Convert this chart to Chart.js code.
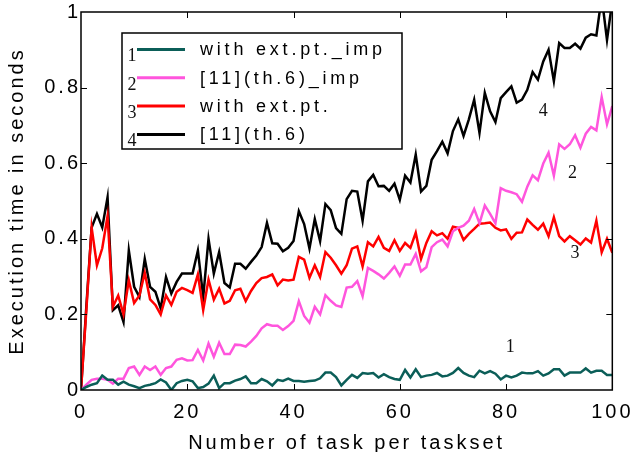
<!DOCTYPE html>
<html lang="en">
<head>
<meta charset="utf-8">
<title>Execution time per taskset</title>
<script src="https://cdn.jsdelivr.net/npm/chart.js@4.4.0/dist/chart.umd.min.js"></script>
<style>
  body { margin: 0; background: #fff; }
  #wrap { width: 639px; height: 452px; }
</style>
</head>
<body>
<div id="wrap"><canvas id="execChart" width="639" height="452"></canvas></div>
<script>
// number of tasks per taskset, 0..100
var taskCounts = [];
for (var i = 0; i <= 100; i++) taskCounts.push(i);

var seriesNames = ['with ext.pt._imp', '[11](th.6)_imp', 'with ext.pt.', '[11](th.6)'];

var extPtImp = [0, 0.008, 0.014, 0.018, 0.038, 0.027, 0.027, 0.014, 0.022, 0.014, 0.01,
  0.005, 0.011, 0.014, 0.018, 0.028, 0.02, 0.0, 0.018, 0.024, 0.027,
  0.023, 0.005, 0.008, 0.017, 0.038, 0.005, 0.018, 0.018, 0.025, 0.029,
  0.036, 0.018, 0.018, 0.029, 0.023, 0.012, 0.027, 0.024, 0.03, 0.024,
  0.024, 0.022, 0.024, 0.025, 0.031, 0.046, 0.046, 0.034, 0.012, 0.027,
  0.04, 0.032, 0.045, 0.043, 0.045, 0.033, 0.042, 0.034, 0.029, 0.027,
  0.053, 0.033, 0.055, 0.034, 0.038, 0.04, 0.045, 0.036, 0.038, 0.045,
  0.058, 0.045, 0.038, 0.034, 0.051, 0.044, 0.05, 0.043, 0.028, 0.038,
  0.033, 0.038, 0.046, 0.044, 0.044, 0.05, 0.038, 0.044, 0.055, 0.055,
  0.038, 0.046, 0.046, 0.046, 0.057, 0.046, 0.051, 0.051, 0.04, 0.04];

var th6Imp = [0, 0.014, 0.027, 0.03, 0.03, 0.027, 0.017, 0.03, 0.03, 0.058, 0.062,
  0.04, 0.062, 0.053, 0.062, 0.04, 0.058, 0.062, 0.08, 0.084, 0.078,
  0.079, 0.106, 0.078, 0.123, 0.088, 0.125, 0.095, 0.095, 0.12, 0.119,
  0.115, 0.128, 0.143, 0.163, 0.174, 0.17, 0.17, 0.159, 0.169, 0.183,
  0.235, 0.196, 0.178, 0.22, 0.2, 0.251, 0.236, 0.224, 0.22, 0.271,
  0.273, 0.288, 0.248, 0.323, 0.315, 0.306, 0.295, 0.31, 0.327, 0.302,
  0.332, 0.332, 0.36, 0.314, 0.325, 0.378, 0.391, 0.398, 0.38, 0.42,
  0.429, 0.435, 0.448, 0.479, 0.441, 0.488, 0.466, 0.441, 0.534, 0.527,
  0.523, 0.518, 0.498, 0.538, 0.568, 0.555, 0.599, 0.628, 0.567, 0.65,
  0.638, 0.65, 0.674, 0.641, 0.678, 0.696, 0.687, 0.775, 0.703, 0.751];

var extPt = [0, 0.21, 0.43, 0.33, 0.375, 0.46, 0.22, 0.25, 0.2, 0.29, 0.23,
  0.25, 0.31, 0.24, 0.225, 0.2, 0.25, 0.225, 0.26, 0.27, 0.264,
  0.257, 0.306, 0.211, 0.292, 0.239, 0.268, 0.229, 0.236, 0.264, 0.268,
  0.235, 0.262, 0.283, 0.296, 0.299, 0.306, 0.277, 0.292, 0.29, 0.292,
  0.352, 0.345, 0.297, 0.33, 0.299, 0.365, 0.35, 0.33, 0.308, 0.33,
  0.374, 0.38, 0.327, 0.391, 0.38, 0.405, 0.376, 0.368, 0.396, 0.368,
  0.389, 0.376, 0.416, 0.347, 0.389, 0.42, 0.409, 0.415, 0.4, 0.432,
  0.429, 0.397, 0.413, 0.426, 0.44, 0.441, 0.443, 0.429, 0.422, 0.425,
  0.4, 0.416, 0.417, 0.451, 0.437, 0.424, 0.44, 0.407, 0.457, 0.407,
  0.393, 0.407, 0.396, 0.385, 0.401, 0.39, 0.448, 0.364, 0.4, 0.363];

var th6 = [0, 0.22, 0.43, 0.466, 0.43, 0.51, 0.211, 0.224, 0.18, 0.369, 0.273,
  0.246, 0.347, 0.273, 0.26, 0.216, 0.299, 0.255, 0.286, 0.308, 0.308,
  0.308, 0.369, 0.246, 0.4, 0.308, 0.365, 0.283, 0.271, 0.334, 0.334,
  0.321, 0.339, 0.356, 0.378, 0.442, 0.388, 0.387, 0.367, 0.376, 0.394,
  0.473, 0.439, 0.374, 0.452, 0.394, 0.492, 0.476, 0.428, 0.413, 0.505,
  0.527, 0.525, 0.448, 0.552, 0.569, 0.539, 0.54, 0.527, 0.546, 0.503,
  0.567, 0.549, 0.623, 0.525, 0.54, 0.609, 0.632, 0.657, 0.626, 0.685,
  0.716, 0.672, 0.716, 0.768, 0.68, 0.786, 0.737, 0.709, 0.772, 0.788,
  0.803, 0.76, 0.768, 0.794, 0.841, 0.821, 0.869, 0.9, 0.817, 0.918,
  0.905, 0.905, 0.916, 0.903, 0.932, 0.941, 0.938, 1.04, 0.926, 1.03];

var xTickValues = [0, 20, 40, 60, 80, 100];
var yTickValues = [0, 0.2, 0.4, 0.6, 0.8, 1];

var colors = ['#0b5e58', '#ff55dd', '#ff0000', '#000000'];

function toPoints(ys) {
  var pts = [];
  for (var i = 0; i < ys.length; i++) pts.push({x: taskCounts[i], y: ys[i]});
  return pts;
}

// frame with inward ticks, numbered legend and curve numbers
var framePlugin = {
  id: 'frame',
  beforeDraw: function(chart) {
    chart.ctx.letterSpacing = '3px';
  },
  afterDatasetsDraw: function(chart) {
    var ctx = chart.ctx, a = chart.chartArea;
    var xs = chart.scales.x, ys = chart.scales.y;
    ctx.save();
    ctx.strokeStyle = '#000';
    ctx.lineWidth = 1.5;
    ctx.strokeRect(a.left, a.top, a.right - a.left, a.bottom - a.top);
    ctx.lineWidth = 1;
    ctx.beginPath();
    xTickValues.slice(1, -1).forEach(function(v) {
      var px = Math.round(xs.getPixelForValue(v)) + 0.5;
      ctx.moveTo(px, a.bottom); ctx.lineTo(px, a.bottom - 6);
      ctx.moveTo(px, a.top); ctx.lineTo(px, a.top + 6);
    });
    yTickValues.slice(1, -1).forEach(function(v) {
      var py = Math.round(ys.getPixelForValue(v)) + 0.5;
      ctx.moveTo(a.left, py); ctx.lineTo(a.left + 6, py);
      ctx.moveTo(a.right, py); ctx.lineTo(a.right - 6, py);
    });
    ctx.stroke();

    // numbers next to the curves
    ctx.letterSpacing = '0px';
    ctx.fillStyle = '#111';
    ctx.font = '18px "Liberation Serif"';
    ctx.textAlign = 'center';
    ctx.textBaseline = 'middle';
    var tags = [[80.8, 0.112, '1'], [92.5, 0.574, '2'], [93, 0.361, '3'], [87, 0.738, '4']];
    tags.forEach(function(t) {
      ctx.fillText(t[2], xs.getPixelForValue(t[0]), ys.getPixelForValue(t[1]));
    });

    // legend box
    var bx = 122, by = 33, bw = 280, bh = 116;
    ctx.fillStyle = '#fff';
    ctx.fillRect(bx, by, bw, bh);
    ctx.lineWidth = 1.5;
    ctx.strokeStyle = '#000';
    ctx.strokeRect(bx, by, bw, bh);
    chart.data.datasets.forEach(function(ds, k) {
      var rowY = 49.5 + k * 28.3;
      ctx.strokeStyle = ds.borderColor;
      ctx.lineWidth = 3;
      ctx.beginPath();
      ctx.moveTo(137, rowY); ctx.lineTo(185, rowY);
      ctx.stroke();
      ctx.fillStyle = '#111';
      ctx.letterSpacing = '0px';
      ctx.font = '18px "Liberation Serif"';
      ctx.textAlign = 'center';
      ctx.fillText(String(k + 1), 132, rowY + 7);
      ctx.letterSpacing = '3.8px';
      ctx.font = '18px "Liberation Sans"';
      ctx.textAlign = 'left';
      ctx.fillStyle = '#000';
      ctx.fillText(ds.label, 200, rowY + 1);
    });
    ctx.restore();
  }
};

var datasets = [extPtImp, th6Imp, extPt, th6].map(function(ys, k) {
  return {
    label: seriesNames[k],
    data: toPoints(ys),
    borderColor: colors[k],
    backgroundColor: colors[k],
    borderWidth: 2.5,
    pointRadius: 0,
    tension: 0,
    fill: false
  };
});

var ctx = document.getElementById('execChart');
var execChart = new Chart(ctx, {
  type: 'line',
  data: { datasets: datasets },
  options: {
    responsive: false,
    animation: false,
    layout: { padding: { top: 10, right: 19, left: 0, bottom: 0 } },
    plugins: { legend: { display: false }, tooltip: { enabled: false } },
    scales: {
      x: {
        type: 'linear', min: 0, max: 100,
        grid: { display: false, drawTicks: false },
        border: { display: false },
        afterFit: function(scale) { scale.height = 62; },
        afterBuildTicks: function(scale) {
          scale.ticks = xTickValues.map(function(v) { return {value: v}; });
        },
        ticks: { color: '#000', padding: 10, maxRotation: 0,
                 font: { family: 'Liberation Sans', size: 20 } },
        title: { display: true, text: 'Number of task per taskset', color: '#000',
                 padding: { top: 0, bottom: -3 },
                 font: { family: 'Liberation Sans', size: 20 } }
      },
      y: {
        min: 0, max: 1,
        grid: { display: false, drawTicks: false },
        border: { display: false },
        afterFit: function(scale) { scale.width = 81; },
        afterBuildTicks: function(scale) {
          scale.ticks = yTickValues.map(function(v) { return {value: v}; });
        },
        ticks: { color: '#000', padding: 0,
                 callback: function(v) { return String(Math.round(v * 10) / 10); },
                 font: { family: 'Liberation Sans', size: 20 } },
        title: { display: true, text: 'Execution time in seconds', color: '#000',
                 padding: { top: 5, bottom: 5 },
                 font: { family: 'Liberation Sans', size: 20 } }
      }
    }
  },
  plugins: [framePlugin]
});
</script>
</body>
</html>
